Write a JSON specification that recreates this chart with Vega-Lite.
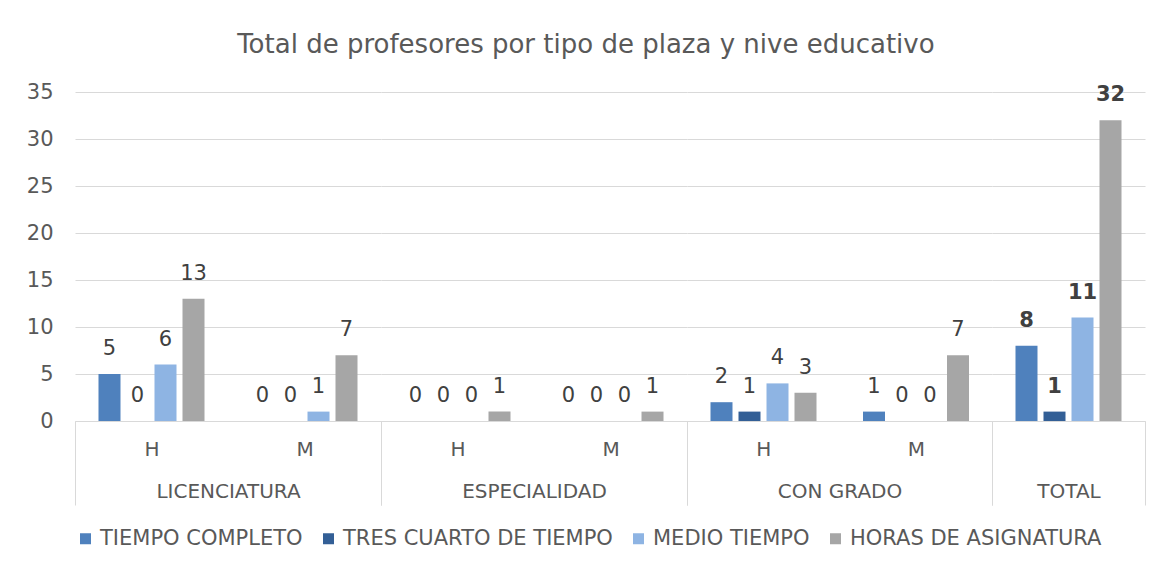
{
  "$schema": "https://vega.github.io/schema/vega-lite/v6.json",
  "padding": {"left": 26, "top": 32, "right": 20, "bottom": 10},
  "background": "white",
  "title": {"text": "Total de profesores por tipo de plaza y nive educativo", "fontSize": 26, "font": "DejaVu Sans", "fontWeight": "normal", "color": "#595959", "anchor": "middle", "offset": 23},
  "config": {
    "font": "DejaVu Sans",
    "view": {"stroke": null},
    "axis": {"labelColor": "#595959", "titleColor": "#595959", "labelFont": "DejaVu Sans", "titleFont": "DejaVu Sans"},
    "legend": {"labelColor": "#595959"}
  },
  "data": {"values": [
    {"grupo": "LICENCIATURA", "sexo": "H", "tipo": "TIEMPO COMPLETO", "valor": 5},
    {"grupo": "LICENCIATURA", "sexo": "H", "tipo": "TRES CUARTO DE TIEMPO", "valor": 0},
    {"grupo": "LICENCIATURA", "sexo": "H", "tipo": "MEDIO TIEMPO", "valor": 6},
    {"grupo": "LICENCIATURA", "sexo": "H", "tipo": "HORAS DE ASIGNATURA", "valor": 13},
    {"grupo": "LICENCIATURA", "sexo": "M", "tipo": "TIEMPO COMPLETO", "valor": 0},
    {"grupo": "LICENCIATURA", "sexo": "M", "tipo": "TRES CUARTO DE TIEMPO", "valor": 0},
    {"grupo": "LICENCIATURA", "sexo": "M", "tipo": "MEDIO TIEMPO", "valor": 1},
    {"grupo": "LICENCIATURA", "sexo": "M", "tipo": "HORAS DE ASIGNATURA", "valor": 7},
    {"grupo": "ESPECIALIDAD", "sexo": "H", "tipo": "TIEMPO COMPLETO", "valor": 0},
    {"grupo": "ESPECIALIDAD", "sexo": "H", "tipo": "TRES CUARTO DE TIEMPO", "valor": 0},
    {"grupo": "ESPECIALIDAD", "sexo": "H", "tipo": "MEDIO TIEMPO", "valor": 0},
    {"grupo": "ESPECIALIDAD", "sexo": "H", "tipo": "HORAS DE ASIGNATURA", "valor": 1},
    {"grupo": "ESPECIALIDAD", "sexo": "M", "tipo": "TIEMPO COMPLETO", "valor": 0},
    {"grupo": "ESPECIALIDAD", "sexo": "M", "tipo": "TRES CUARTO DE TIEMPO", "valor": 0},
    {"grupo": "ESPECIALIDAD", "sexo": "M", "tipo": "MEDIO TIEMPO", "valor": 0},
    {"grupo": "ESPECIALIDAD", "sexo": "M", "tipo": "HORAS DE ASIGNATURA", "valor": 1},
    {"grupo": "CON GRADO", "sexo": "H", "tipo": "TIEMPO COMPLETO", "valor": 2},
    {"grupo": "CON GRADO", "sexo": "H", "tipo": "TRES CUARTO DE TIEMPO", "valor": 1},
    {"grupo": "CON GRADO", "sexo": "H", "tipo": "MEDIO TIEMPO", "valor": 4},
    {"grupo": "CON GRADO", "sexo": "H", "tipo": "HORAS DE ASIGNATURA", "valor": 3},
    {"grupo": "CON GRADO", "sexo": "M", "tipo": "TIEMPO COMPLETO", "valor": 1},
    {"grupo": "CON GRADO", "sexo": "M", "tipo": "TRES CUARTO DE TIEMPO", "valor": 0},
    {"grupo": "CON GRADO", "sexo": "M", "tipo": "MEDIO TIEMPO", "valor": 0},
    {"grupo": "CON GRADO", "sexo": "M", "tipo": "HORAS DE ASIGNATURA", "valor": 7},
    {"grupo": "TOTAL", "sexo": "", "tipo": "TIEMPO COMPLETO", "valor": 8},
    {"grupo": "TOTAL", "sexo": "", "tipo": "TRES CUARTO DE TIEMPO", "valor": 1},
    {"grupo": "TOTAL", "sexo": "", "tipo": "MEDIO TIEMPO", "valor": 11},
    {"grupo": "TOTAL", "sexo": "", "tipo": "HORAS DE ASIGNATURA", "valor": 32}
  ]},
  "spacing": 0,
  "bounds": "flush",
  "resolve": {"scale": {"y": "shared", "color": "shared"}, "legend": {"color": "shared"}},
  "hconcat": [
    {
      "width": 306, "height": 329,
      "transform": [{"filter": "datum.grupo === 'LICENCIATURA'"}],
      "encoding": {
        "x": {"field": "sexo", "type": "nominal", "sort": ["H", "M"], "scale": {"paddingInner": 0, "paddingOuter": 0},
          "axis": {"title": "LICENCIATURA", "titleFontSize": 20, "titleFontWeight": "normal", "titleY": 70, "titleBaseline": "middle", "labelAngle": 0, "labelFontSize": 20, "labelPadding": -56, "labelBaseline": "middle", "tickBand": "extent", "tickSize": 84, "tickColor": "#d9d9d9", "tickOpacity": {"condition": {"test": "datum.value === 'H'", "value": 0}, "value": 1}, "domainColor": "#d9d9d9"}},
        "y": {"field": "valor", "type": "quantitative", "scale": {"domain": [0, 35]},
          "axis": {"title": null, "values": [0, 5, 10, 15, 20, 25, 30, 35], "labelFontSize": 21, "labelPadding": 22, "ticks": false, "domain": false, "gridColor": "#d9d9d9"}},
        "xOffset": {"field": "tipo", "sort": ["TIEMPO COMPLETO", "TRES CUARTO DE TIEMPO", "MEDIO TIEMPO", "HORAS DE ASIGNATURA"], "scale": {"paddingInner": 0.2143, "paddingOuter": 0.839}}
      },
      "layer": [
        {"mark": {"type": "bar"},
          "encoding": {"color": {"field": "tipo", "type": "nominal", "scale": {"domain": ["TIEMPO COMPLETO", "TRES CUARTO DE TIEMPO", "MEDIO TIEMPO", "HORAS DE ASIGNATURA"], "range": ["#4f81bd", "#335f96", "#8eb4e3", "#a6a6a6"]},
            "legend": {"title": null, "orient": "bottom", "direction": "horizontal", "symbolType": "square", "symbolSize": 121, "symbolStrokeWidth": 0, "labelFontSize": 21, "labelLimit": 0, "labelOffset": 4, "columnPadding": 15, "padding": 0, "offset": 22, "labelFont": "DejaVu Sans"}}}},
        {"mark": {"type": "text", "dy": -25, "baseline": "middle", "fontSize": 21, "color": "#404040"},
          "encoding": {"text": {"field": "valor", "type": "quantitative"}}}
      ]
    },
    {
      "width": 306, "height": 329,
      "transform": [{"filter": "datum.grupo === 'ESPECIALIDAD'"}],
      "encoding": {
        "x": {"field": "sexo", "type": "nominal", "sort": ["H", "M"], "scale": {"paddingInner": 0, "paddingOuter": 0},
          "axis": {"title": "ESPECIALIDAD", "titleFontSize": 20, "titleFontWeight": "normal", "titleY": 70, "titleBaseline": "middle", "labelAngle": 0, "labelFontSize": 20, "labelPadding": -56, "labelBaseline": "middle", "tickBand": "extent", "tickSize": 84, "tickColor": "#d9d9d9", "tickOpacity": {"condition": {"test": "datum.value === 'H'", "value": 0}, "value": 1}, "domainColor": "#d9d9d9"}},
        "y": {"field": "valor", "type": "quantitative", "scale": {"domain": [0, 35]},
          "axis": {"title": null, "values": [0, 5, 10, 15, 20, 25, 30, 35], "labels": false, "ticks": false, "domain": false, "minExtent": 0, "maxExtent": 0, "labelPadding": 0, "gridColor": "#d9d9d9"}},
        "xOffset": {"field": "tipo", "sort": ["TIEMPO COMPLETO", "TRES CUARTO DE TIEMPO", "MEDIO TIEMPO", "HORAS DE ASIGNATURA"], "scale": {"paddingInner": 0.2143, "paddingOuter": 0.839}}
      },
      "layer": [
        {"mark": {"type": "bar"},
          "encoding": {"color": {"field": "tipo", "type": "nominal"}}},
        {"mark": {"type": "text", "dy": -25, "baseline": "middle", "fontSize": 21, "color": "#404040"},
          "encoding": {"text": {"field": "valor", "type": "quantitative"}}}
      ]
    },
    {
      "width": 305, "height": 329,
      "transform": [{"filter": "datum.grupo === 'CON GRADO'"}],
      "encoding": {
        "x": {"field": "sexo", "type": "nominal", "sort": ["H", "M"], "scale": {"paddingInner": 0, "paddingOuter": 0},
          "axis": {"title": "CON GRADO", "titleFontSize": 20, "titleFontWeight": "normal", "titleY": 70, "titleBaseline": "middle", "labelAngle": 0, "labelFontSize": 20, "labelPadding": -56, "labelBaseline": "middle", "tickBand": "extent", "tickSize": 84, "tickColor": "#d9d9d9", "tickOpacity": {"condition": {"test": "datum.value === 'H'", "value": 0}, "value": 1}, "domainColor": "#d9d9d9"}},
        "y": {"field": "valor", "type": "quantitative", "scale": {"domain": [0, 35]},
          "axis": {"title": null, "values": [0, 5, 10, 15, 20, 25, 30, 35], "labels": false, "ticks": false, "domain": false, "minExtent": 0, "maxExtent": 0, "labelPadding": 0, "gridColor": "#d9d9d9"}},
        "xOffset": {"field": "tipo", "sort": ["TIEMPO COMPLETO", "TRES CUARTO DE TIEMPO", "MEDIO TIEMPO", "HORAS DE ASIGNATURA"], "scale": {"paddingInner": 0.2143, "paddingOuter": 0.839}}
      },
      "layer": [
        {"mark": {"type": "bar"},
          "encoding": {"color": {"field": "tipo", "type": "nominal"}}},
        {"mark": {"type": "text", "dy": -25, "baseline": "middle", "fontSize": 21, "color": "#404040"},
          "encoding": {"text": {"field": "valor", "type": "quantitative"}}}
      ]
    },
    {
      "width": 153, "height": 329,
      "transform": [{"filter": "datum.grupo === 'TOTAL'"}],
      "encoding": {
        "x": {"field": "sexo", "type": "nominal", "scale": {"paddingInner": 0, "paddingOuter": 0},
          "axis": {"title": "TOTAL", "titleFontSize": 20, "titleFontWeight": "normal", "titleY": 70, "titleBaseline": "middle", "labelAngle": 0, "labelFontSize": 20, "labelPadding": -56, "labelBaseline": "middle", "tickBand": "extent", "tickSize": 84, "tickColor": "#d9d9d9", "domainColor": "#d9d9d9"}},
        "y": {"field": "valor", "type": "quantitative", "scale": {"domain": [0, 35]},
          "axis": {"title": null, "values": [0, 5, 10, 15, 20, 25, 30, 35], "labels": false, "ticks": false, "domain": false, "minExtent": 0, "maxExtent": 0, "labelPadding": 0, "gridColor": "#d9d9d9"}},
        "xOffset": {"field": "tipo", "sort": ["TIEMPO COMPLETO", "TRES CUARTO DE TIEMPO", "MEDIO TIEMPO", "HORAS DE ASIGNATURA"], "scale": {"paddingInner": 0.2143, "paddingOuter": 0.839}}
      },
      "layer": [
        {"mark": {"type": "bar"},
          "encoding": {"color": {"field": "tipo", "type": "nominal"}}},
        {"mark": {"type": "text", "dy": -25, "baseline": "middle", "fontSize": 21, "fontWeight": "bold", "color": "#404040"},
          "encoding": {"text": {"field": "valor", "type": "quantitative"}}}
      ]
    }
  ]
}
